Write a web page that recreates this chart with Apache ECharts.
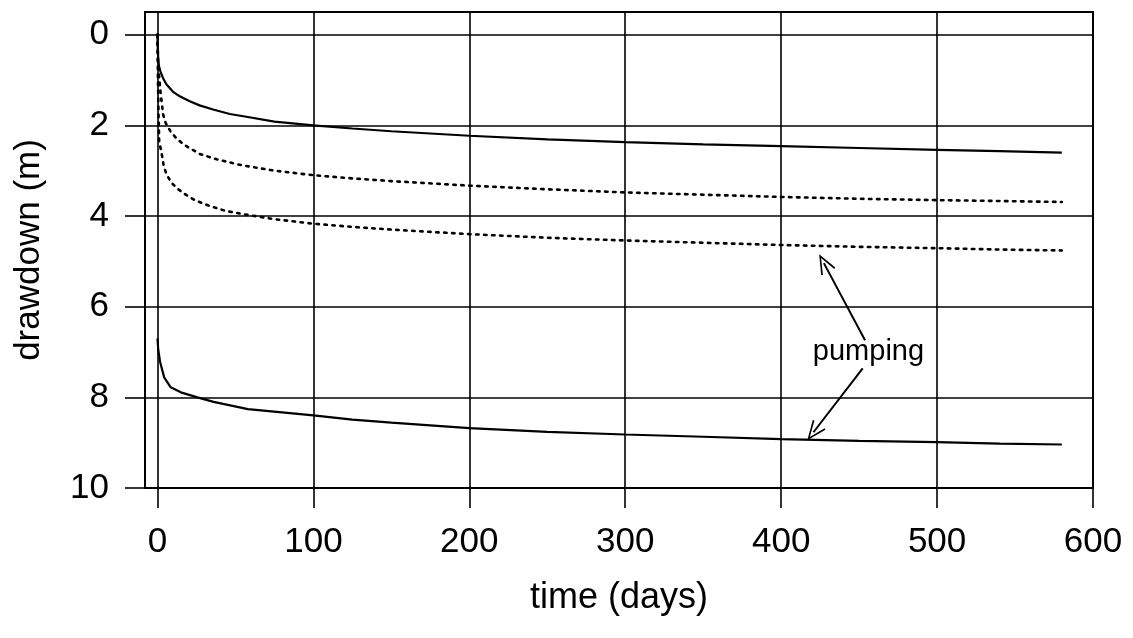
<!DOCTYPE html>
<html>
<head>
<meta charset="utf-8">
<script src="https://cdn.jsdelivr.net/npm/echarts@6/dist/echarts.min.js"></script>
<style>html,body{margin:0;padding:0;background:#fff}#c{width:1133px;height:638px}</style>
</head>
<body>
<div id="c"></div>
<script>
// time (days) and drawdown (m)
const upperSolidT = [0, 0.2, 0.5, 1, 2, 3.6, 5.8, 10, 14.3, 20.7, 27, 35.7, 46.4, 57, 75, 100, 125, 150, 200, 250, 300, 350, 400, 450, 500, 540, 580];
const upperSolidS = [0, 0.3, 0.55, 0.7, 0.82, 0.96, 1.10, 1.26, 1.36, 1.47, 1.56, 1.65, 1.75, 1.81, 1.92, 2.0, 2.07, 2.13, 2.23, 2.31, 2.37, 2.42, 2.46, 2.50, 2.54, 2.57, 2.6];

const upperDotT = [0, 0.5, 0.8, 1.9, 3.6, 5.3, 8.3, 12.2, 17.5, 27, 38, 54, 75, 100, 125, 150, 200, 250, 300, 350, 400, 450, 500, 540, 580];
const upperDotS = [0, 0.7, 0.81, 1.25, 1.76, 1.95, 2.13, 2.29, 2.44, 2.63, 2.75, 2.88, 3.0, 3.10, 3.17, 3.23, 3.33, 3.41, 3.48, 3.53, 3.58, 3.62, 3.65, 3.67, 3.69];

const lowerDotT = [0, 0.3, 0.7, 1.1, 3.0, 4.0, 5.8, 9, 13.3, 18.6, 24, 33.5, 44, 55, 75, 100, 125, 150, 200, 250, 300, 350, 400, 450, 500, 540, 580];
const lowerDotS = [0, 1.0, 1.8, 2.35, 2.68, 2.90, 3.08, 3.27, 3.41, 3.54, 3.65, 3.78, 3.89, 3.96, 4.07, 4.17, 4.24, 4.30, 4.40, 4.48, 4.54, 4.59, 4.64, 4.68, 4.71, 4.74, 4.76];

const lowerSolidT = [0, 0.5, 1.7, 4.3, 8.5, 15, 25.6, 36, 58, 100, 125, 150, 200, 250, 300, 350, 400, 450, 500, 540, 580];
const lowerSolidS = [6.7, 6.95, 7.22, 7.56, 7.78, 7.89, 8.0, 8.1, 8.26, 8.4, 8.49, 8.56, 8.68, 8.76, 8.82, 8.87, 8.92, 8.96, 8.99, 9.02, 9.04];

const xTicks = [0, 100, 200, 300, 400, 500, 600];
const yTicks = [0, 2, 4, 6, 8, 10];

const annotationText = 'pumping';
const textAt = [456, 7.0];
const arrowUp = [[453.8, 6.74], [427.4, 5.04]];
const arrowDown = [[452.3, 7.36], [420.7, 8.77]];

const zip = (t, s) => t.map((v, i) => [v, s[i]]);
const FONT = 'Liberation Sans, Arial, Helvetica, sans-serif';
const chevron = 'path://M0,0 L-7,16 L-5.6,16.6 L0,3.4 L5.6,16.6 L7,16 Z';

const solidStyle = { color: '#000', width: 2.2 };
const dotStyle = { color: '#000', width: 2.6, type: [2.5, 5.5], cap: 'round' };

const chart = echarts.init(document.getElementById('c'), null, { renderer: 'canvas' });
chart.setOption({
  backgroundColor: '#fff',
  animation: false,
  grid: { left: 145, right: 40, top: 12, bottom: 150, show: true, borderColor: '#000', borderWidth: 2, containLabel: false },
  xAxis: {
    type: 'value', min: -8, max: 600,
    name: 'time (days)', nameLocation: 'middle', nameGap: 92,
    nameTextStyle: { fontFamily: FONT, fontSize: 36, color: '#000' },
    axisLine: { show: true, onZero: false, lineStyle: { color: '#000', width: 2 } },
    axisTick: { show: true, inside: false, length: 20, customValues: xTicks, lineStyle: { color: '#000', width: 1.6 } },
    axisLabel: { customValues: xTicks, margin: 37, fontFamily: FONT, fontSize: 35, color: '#000' },
    splitLine: { show: true, lineStyle: { color: '#000', width: 1.6 } }
  },
  yAxis: {
    type: 'value', min: -0.5, max: 10, inverse: true,
    name: 'drawdown (m)', nameLocation: 'middle', nameGap: 98, nameRotate: 90,
    nameTextStyle: { fontFamily: FONT, fontSize: 35, color: '#000' },
    axisLine: { show: true, onZero: false, lineStyle: { color: '#000', width: 2 } },
    axisTick: { show: true, inside: false, length: 20, customValues: yTicks, lineStyle: { color: '#000', width: 1.6 } },
    axisLabel: { customValues: yTicks, margin: 36, fontFamily: FONT, fontSize: 35, color: '#000' },
    splitLine: { show: true, lineStyle: { color: '#000', width: 1.6 } }
  },
  series: [
    { type: 'line', data: zip(upperSolidT, upperSolidS), showSymbol: false, smooth: false, lineStyle: solidStyle, z: 3 },
    { type: 'line', data: zip(upperDotT, upperDotS), showSymbol: false, smooth: false, lineStyle: dotStyle, z: 3 },
    { type: 'line', data: zip(lowerDotT, lowerDotS), showSymbol: false, smooth: false, lineStyle: dotStyle, z: 3,
      markLine: {
        silent: true, symbol: ['none', chevron], symbolSize: [16, 20],
        lineStyle: { color: '#000', width: 2, type: 'solid' },
        label: { show: false },
        data: [
          [{ coord: arrowUp[0] }, { coord: arrowUp[1] }],
          [{ coord: arrowDown[0] }, { coord: arrowDown[1] }]
        ]
      }
    },
    { type: 'line', data: zip(lowerSolidT, lowerSolidS), showSymbol: false, smooth: false, lineStyle: solidStyle, z: 3,
      markPoint: {
        silent: true, symbol: 'circle', symbolSize: 1, itemStyle: { color: 'rgba(0,0,0,0)' },
        label: { show: true, position: 'inside', formatter: annotationText, fontFamily: FONT, fontSize: 29, color: '#000' },
        data: [{ coord: textAt }]
      }
    }
  ]
});
</script>
</body>
</html>
